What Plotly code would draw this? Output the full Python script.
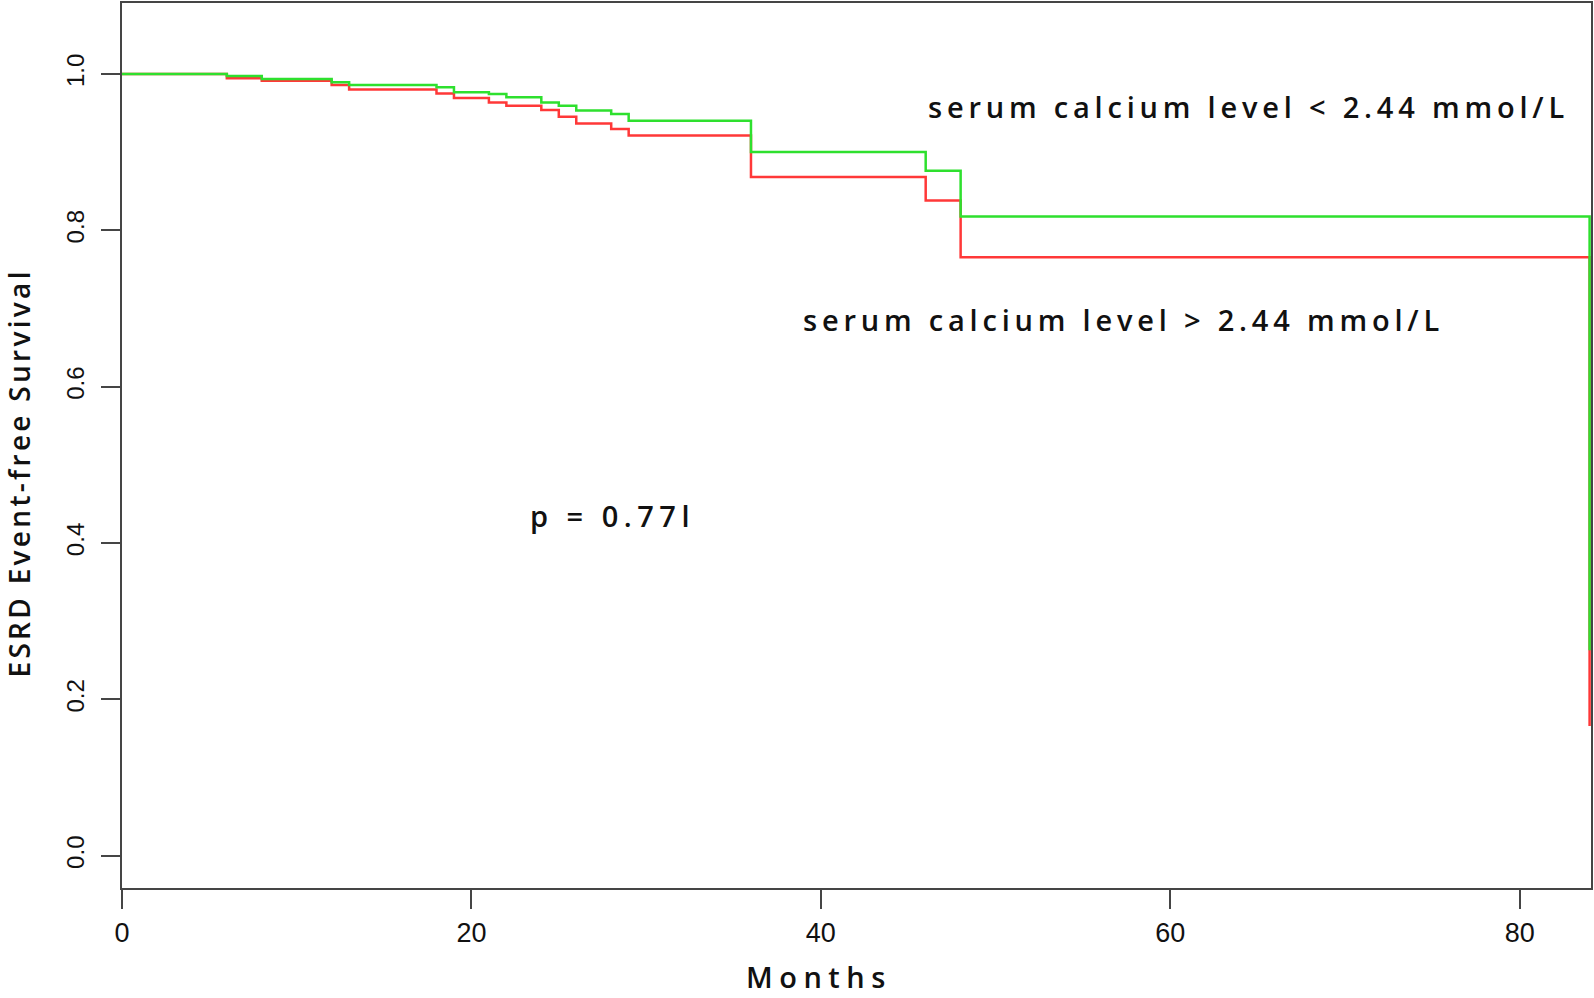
import plotly.graph_objects as go

# Kaplan-Meier step data
months_low = [0, 6, 8, 12, 13, 18, 19, 21, 22, 24, 25, 26, 28, 29, 36, 46, 48, 84]
surv_low = [1.0, 0.9973, 0.9935, 0.9892, 0.9858, 0.9828, 0.9764, 0.9743, 0.9700,
            0.9636, 0.9594, 0.9531, 0.9488, 0.9402, 0.9000, 0.8763, 0.8175, 0.263]

months_high = [0, 6, 8, 12, 13, 18, 19, 21, 22, 24, 25, 26, 28, 29, 36, 46, 48, 84]
surv_high = [1.0, 0.9943, 0.9913, 0.9858, 0.9802, 0.9748, 0.9692, 0.9636, 0.9594,
             0.9539, 0.9453, 0.9367, 0.9296, 0.9212, 0.8680, 0.8380, 0.7655, 0.166]

x_ticks = [0, 20, 40, 60, 80]
y_ticks = [0.0, 0.2, 0.4, 0.6, 0.8, 1.0]
y_tick_labels = ["0.0", "0.2", "0.4", "0.6", "0.8", "1.0"]

label_low = "serum calcium level < 2.44 mmol/L"
label_high = "serum calcium level > 2.44 mmol/L"
p_text = "p = 0.77l"
x_title = "Months"
y_title = "ESRD Event-free Survival"

GREEN = "#2ee02e"
RED = "#ff3838"
AX = "#454545"
TXT = "#111111"


def spaced(s, ls):
    s = s.replace("<", "&lt;").replace(">", "&gt;")
    return f'<span style="letter-spacing:{ls}px">{s}</span>'


fig = go.Figure()
fig.add_trace(go.Scatter(x=months_high, y=surv_high, mode="lines",
                         line=dict(color=RED, width=2.5, shape="hv"),
                         showlegend=False, hoverinfo="skip"))
fig.add_trace(go.Scatter(x=months_low, y=surv_low, mode="lines",
                         line=dict(color=GREEN, width=2.5, shape="hv"),
                         showlegend=False, hoverinfo="skip"))

anno_font = dict(family="Open Sans", size=29, color=TXT, weight=600)

fig.update_layout(
    width=1594, height=998, autosize=False,
    margin=dict(l=122, r=1, t=2, b=110, pad=0),
    paper_bgcolor="white", plot_bgcolor="white",
    xaxis=dict(range=[0, 84.08], tickvals=x_ticks, ticks="outside", ticklen=19,
               tickwidth=2, tickcolor=AX, showline=True, linecolor=AX, linewidth=2,
               mirror=True, showgrid=False, zeroline=False,
               tickfont=dict(family="Liberation Sans", size=27, color=TXT),
               ticklabelstandoff=1),
    yaxis=dict(range=[-0.0412, 1.0907], tickvals=y_ticks, ticktext=y_tick_labels,
               ticks="outside", ticklen=19, tickwidth=2, tickcolor=AX,
               showline=True, linecolor=AX, linewidth=2, mirror=True,
               showgrid=False, zeroline=False, tickangle=-90,
               tickfont=dict(family="Liberation Sans", size=24, color=TXT),
               ticklabelstandoff=7),
    annotations=[
        dict(x=64.45, y=0.958, xref="x", yref="y", text=spaced(label_low, 4.8),
             showarrow=False, font=anno_font, xanchor="center", yanchor="middle"),
        dict(x=57.3, y=0.686, xref="x", yref="y", text=spaced(label_high, 4.8),
             showarrow=False, font=anno_font, xanchor="center", yanchor="middle"),
        dict(x=28.05, y=0.435, xref="x", yref="y", text=spaced(p_text, 5.5),
             showarrow=False, font=anno_font, xanchor="center", yanchor="middle"),
        dict(x=0.4745, y=-0.1005, xref="paper", yref="paper", text=spaced(x_title, 6.5),
             showarrow=False, borderpad=0,
             font=dict(family="Open Sans", size=29, color=TXT, weight=600),
             xanchor="center", yanchor="middle"),
        dict(x=-0.0704, y=0.469, xref="paper", yref="paper", text=spaced(y_title, 3.3),
             showarrow=False, textangle=-90,
             font=dict(family="Open Sans", size=28, color=TXT, weight=600),
             xanchor="center", yanchor="middle"),
    ],
)

fig.write_html("out.html", config={"displayModeBar": False},
               post_script="document.body.style.margin='0';document.body.style.overflow='hidden';")
